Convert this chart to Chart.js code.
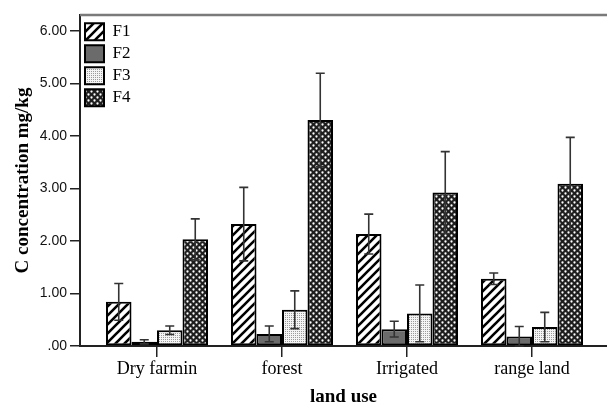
<!DOCTYPE html>
<html>
<head>
<meta charset="utf-8">
<script src="https://cdn.jsdelivr.net/npm/chart.js@4/dist/chart.umd.min.js"></script>
<style>
  html, body { margin: 0; padding: 0; background: #fff; }
  canvas { display: block; }
</style>
</head>
<body>
<canvas id="c" width="607" height="408"></canvas>
<script>
// ---- data ----
const categories = ['Dry farmin', 'forest', 'Irrigated', 'range land'];
const seriesNames = ['F1', 'F2', 'F3', 'F4'];
const F1 = [0.84, 2.32, 2.13, 1.28];
const F2 = [0.08, 0.23, 0.32, 0.18];
const F3 = [0.30, 0.69, 0.62, 0.36];
const F4 = [2.03, 4.30, 2.92, 3.09];
const F1err = [0.35, 0.70, 0.38, 0.11];
const F2err = [0.04, 0.15, 0.15, 0.19];
const F3err = [0.08, 0.36, 0.54, 0.28];
const F4err = [0.39, 0.89, 0.78, 0.88];
const yTicks = [0, 1, 2, 3, 4, 5, 6];
const yTickLabels = ['.00', '1.00', '2.00', '3.00', '4.00', '5.00', '6.00'];

// ---- patterns ----
function makePattern(size, draw) {
  const c = document.createElement('canvas');
  c.width = size; c.height = size;
  const g = c.getContext('2d');
  draw(g, size);
  return document.getElementById('c').getContext('2d').createPattern(c, 'repeat');
}
const stripes = makePattern(9, (g, s) => {
  g.fillStyle = '#fff'; g.fillRect(0, 0, s, s);
  g.strokeStyle = '#000'; g.lineWidth = 2.6;
  g.beginPath();
  g.moveTo(-2, s + 2); g.lineTo(s + 2, -2);
  g.moveTo(-2, 2); g.lineTo(2, -2);
  g.moveTo(s - 2, s + 2); g.lineTo(s + 2, s - 2);
  g.stroke();
});
const dots = makePattern(2, (g, s) => {
  g.fillStyle = '#f4f4f4'; g.fillRect(0, 0, s, s);
  g.fillStyle = '#9a9a9a'; g.fillRect(1, 1, 1, 1);
});
const checker = makePattern(6, (g, s) => {
  g.fillStyle = '#1e1e1e'; g.fillRect(0, 0, s, s);
  g.fillStyle = '#fff';
  g.beginPath(); g.arc(1.5, 1.5, 1.15, 0, Math.PI * 2); g.fill();
  g.beginPath(); g.arc(4.5, 4.5, 1.15, 0, Math.PI * 2); g.fill();
});
const fills = [stripes, '#6b6b6b', dots, checker];
const values = [F1, F2, F3, F4];
const errors = [F1err, F2err, F3err, F4err];

const datasets = seriesNames.map((name, k) => ({
  label: name,
  data: values[k].map((v, i) => ({ x: i, y: v })),
  errors: errors[k],
  backgroundColor: fills[k],
  borderColor: '#000',
  borderWidth: 2,
  borderSkipped: false,
  categoryPercentage: 0.816,
  barPercentage: 1.0
}));

const errorBars = {
  id: 'errorBars',
  afterDatasetsDraw(chart) {
    const ctx = chart.ctx, ys = chart.scales.y;
    ctx.save();
    ctx.strokeStyle = '#333';
    ctx.lineWidth = 1.6;
    chart.data.datasets.forEach((ds, di) => {
      const meta = chart.getDatasetMeta(di);
      meta.data.forEach((el, i) => {
        const v = ds.data[i].y, e = ds.errors[i];
        const yh = ys.getPixelForValue(v + e);
        const yl = ys.getPixelForValue(Math.max(0, v - e));
        const x = el.x, w = 4.5;
        ctx.beginPath();
        ctx.moveTo(x, yh); ctx.lineTo(x, yl);
        ctx.moveTo(x - w, yh); ctx.lineTo(x + w, yh);
        ctx.moveTo(x - w, yl); ctx.lineTo(x + w, yl);
        ctx.stroke();
      });
    });
    ctx.restore();
  }
};

const topFrame = {
  id: 'topFrame',
  afterDraw(chart) {
    const { ctx, chartArea: a } = chart;
    ctx.save();
    ctx.strokeStyle = '#7a7a7a';
    ctx.lineWidth = 2.5;
    ctx.beginPath();
    ctx.moveTo(a.left, a.top); ctx.lineTo(a.right, a.top);
    ctx.stroke();
    ctx.restore();
  }
};

new Chart(document.getElementById('c'), {
  type: 'bar',
  data: { datasets },
  plugins: [errorBars, topFrame],
  options: {
    responsive: false,
    devicePixelRatio: 1,
    animation: false,
    layout: { padding: { top: 15, left: 0, right: 0, bottom: 0 } },
    plugins: {
      tooltip: { enabled: false },
      legend: {
        position: 'chartArea',
        align: 'start',
        title: { display: true, text: ' ', font: { size: 1 }, padding: { top: 16, bottom: 1 } },
        labels: {
          boxWidth: 19,
          boxHeight: 17,
          padding: 5,
          color: '#000',
          font: { family: 'Liberation Serif', size: 17 }
        }
      }
    },
    scales: {
      x: {
        type: 'linear',
        offset: false,
        min: -0.616,
        max: 3.6,
        afterBuildTicks(scale) { scale.ticks = categories.map((_, i) => ({ value: i })); },
        afterFit(scale) { scale.height = 62; },
        ticks: {
          callback: (v) => categories[v],
          color: '#000',
          padding: 1,
          maxRotation: 0,
          autoSkip: false,
          font: { family: 'Liberation Serif', size: 18 }
        },
        grid: { offset: false, drawOnChartArea: false, drawTicks: true, tickLength: 11, color: '#222', lineWidth: 1.5 },
        border: { display: true, color: '#222', width: 2 },
        title: {
          display: true,
          text: 'land use',
          color: '#000',
          padding: { top: 0, bottom: 0 },
          font: { family: 'Liberation Serif', size: 19, weight: 'bold' }
        }
      },
      y: {
        min: 0,
        max: 6.3,
        afterBuildTicks(scale) { scale.ticks = yTicks.map(v => ({ value: v })); },
        afterFit(scale) { scale.width = 80; },
        ticks: {
          callback: (v) => yTickLabels[yTicks.indexOf(v)],
          color: '#111',
          padding: 3,
          font: { family: 'Liberation Sans', size: 14 }
        },
        grid: { drawOnChartArea: false, drawTicks: true, tickLength: 10, color: '#222', lineWidth: 1.5 },
        border: { display: true, color: '#222', width: 2 },
        title: {
          display: true,
          text: 'C concentration mg/kg',
          color: '#000',
          padding: { top: 12, bottom: 0 },
          font: { family: 'Liberation Serif', size: 19, weight: 'bold' }
        }
      }
    }
  }
});
</script>
</body>
</html>
